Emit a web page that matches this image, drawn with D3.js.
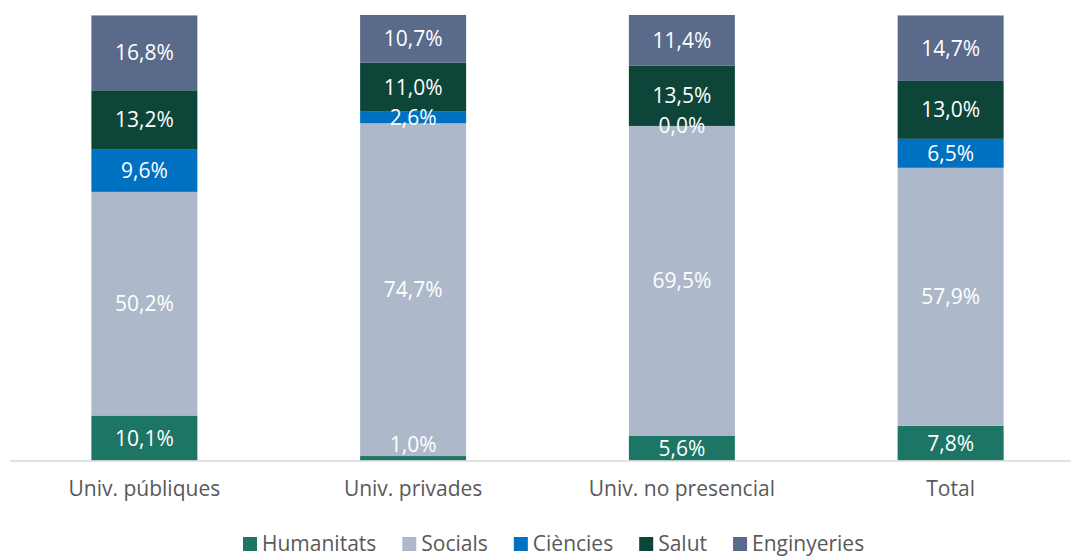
<!DOCTYPE html>
<html>
<head>
<meta charset="utf-8">
<script src="https://cdn.jsdelivr.net/npm/d3@7"></script>
<style>
  html, body { margin: 0; padding: 0; background: #ffffff; }
  svg { display: block; }
</style>
</head>
<body>
<svg id="chart" width="1071" height="556"></svg>
<script>
const categories = ["Univ. públiques", "Univ. privades", "Univ. no presencial", "Total"];
const seriesNames = ["Humanitats", "Socials", "Ciències", "Salut", "Enginyeries"];
const humanitats  = [10.1, 1.0, 5.6, 7.8];
const socials     = [50.2, 74.7, 69.5, 57.9];
const ciencies    = [9.6, 2.6, 0.0, 6.5];
const salut       = [13.2, 11.0, 13.5, 13.0];
const enginyeries = [16.8, 10.7, 11.4, 14.7];
const colors = ["#1C7565", "#ADB9CA", "#0070C0", "#0D4538", "#5A6A8B"];

const seriesValues = [humanitats, socials, ciencies, salut, enginyeries];
const table = categories.map((c, i) => {
  const row = { cat: c };
  seriesNames.forEach((s, j) => row[s] = seriesValues[j][i]);
  return row;
});

const svg = d3.select("#chart");
const font = "'Open Sans', 'Liberation Sans', sans-serif";
const fs = 21;

const x = d3.scaleBand().domain(categories).range([10, 1085])
  .paddingInner(0.6056).paddingOuter(0.3028);
const y = d3.scaleLinear().domain([0, 100]).range([460.5, 15]);
const color = d3.scaleOrdinal().domain(seriesNames).range(colors);

const stack = d3.stack().keys(seriesNames)(table);

const g = svg.append("g");
stack.forEach(layer => {
  g.selectAll(null).data(layer).enter().append("rect")
    .attr("x", d => x(d.data.cat))
    .attr("width", x.bandwidth())
    .attr("y", d => y(d[1]))
    .attr("height", d => Math.max(0, y(d[0]) - y(d[1])))
    .attr("fill", color(layer.key));
});

// axis line
const axis = svg.append("g").attr("transform", `translate(0, ${y(0) + 0.5})`)
  .call(d3.axisBottom(x).tickSize(0).tickPadding(20));
axis.select(".domain").attr("stroke", "#D9D9D9").attr("stroke-width", 1.5)
  .attr("d", "M10,0H1071");
axis.selectAll(".tick text").attr("font-family", font).attr("font-size", fs)
  .attr("fill", "#595959");

// labels
const fmt = v => v.toFixed(1).replace(".", ",") + "%";
stack.forEach((layer, li) => {
  g.selectAll(null).data(layer).enter().append("text")
    .attr("x", d => x(d.data.cat) + x.bandwidth() / 2)
    .attr("y", d => {
      let cy = (y(d[0]) + y(d[1])) / 2;
      if (li === 0 && y(d[0]) - y(d[1]) < 12) cy = y(0) - 16;
      return cy;
    })
    .attr("dy", "0.36em")
    .attr("text-anchor", "middle")
    .attr("font-family", font)
    .attr("font-size", fs)
    .attr("fill", "#ffffff")
    .text(d => fmt(d.data[layer.key]));
});

// legend
const legend = svg.append("g");
let lx = 243;
seriesNames.forEach((s, i) => {
  const item = legend.append("g");
  item.append("rect").attr("x", lx).attr("y", 537).attr("width", 14).attr("height", 14)
    .attr("fill", colors[i]);
  const t = item.append("text").attr("x", lx + 19).attr("y", 550.5)
    .attr("font-family", font).attr("font-size", fs).attr("fill", "#595959").text(s);
  lx += 19 + t.node().getComputedTextLength() + 26;
});
</script>
</body>
</html>
